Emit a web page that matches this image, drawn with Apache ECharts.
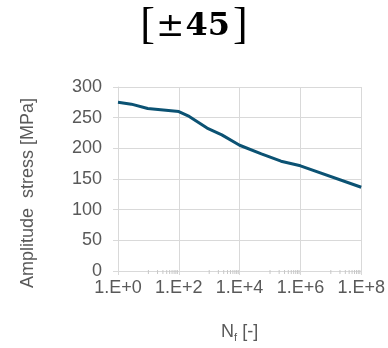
<!DOCTYPE html>
<html>
<head>
<meta charset="utf-8">
<script src="https://cdn.jsdelivr.net/npm/echarts@6/dist/echarts.min.js"></script>
<style>html,body{margin:0;padding:0;background:#fff}#c{width:388px;height:348px}</style>
</head>
<body>
<div id="c"></div>
<script>
// Cycles to failure N_f and amplitude stress [MPa]
var cycles = [1, 2.75, 9.5, 100, 220, 850, 2600, 10000, 52000, 230000, 1000000, 100000000];
var stress = [275, 272, 265, 260, 252, 233, 222, 205, 191, 179, 171.5, 136.5];
var yTicks = [0, 50, 100, 150, 200, 250, 300];
var xTickExponents = [0, 2, 4, 6, 8];
// minor tick positions (log axis minor ticks as drawn in the reference)
var minorTicks = [];
[1, 3, 5, 7].forEach(function (e) {
  for (var k = 1; k <= 9; k++) minorTicks.push(k * Math.pow(10, e));
});

var chart = echarts.init(document.getElementById('c'), null, {renderer: 'canvas'});
var grey = '#595959';
var lineGrey = '#d9d9d9';
chart.setOption({
  animation: false,
  backgroundColor: '#fff',
  grid: {left: 118, top: 87, width: 246, height: 191, containLabel: false},
  xAxis: {
    type: 'log', logBase: 10,
    min: Math.pow(10, xTickExponents[0]), max: Math.pow(10, xTickExponents[xTickExponents.length - 1]),
    interval: 2,
    axisLine: {show: true, lineStyle: {color: lineGrey, width: 1}},
    axisTick: {show: true, length: 4, lineStyle: {color: lineGrey}},
    splitLine: {show: true, lineStyle: {color: lineGrey, width: 1}},
    axisLabel: {
      color: grey, fontSize: 18, fontFamily: 'Liberation Sans', margin: 8,
      formatter: function (v) { return '1.E+' + Math.round(Math.log10(v)); }
    },
    name: '{n|N}{f|f}{n| [-]}',
    nameLocation: 'middle', nameGap: 51,
    nameTextStyle: {
      rich: {
        n: {fontSize: 18, fontFamily: 'Liberation Sans', color: grey},
        f: {fontSize: 11, fontFamily: 'Liberation Sans', color: grey, padding: [10, 0, 0, 0]}
      }
    }
  },
  yAxis: {
    type: 'value', min: yTicks[0], max: yTicks[yTicks.length - 1], interval: 50,
    axisLine: {show: true, lineStyle: {color: lineGrey, width: 1}},
    axisTick: {show: true, length: 5, lineStyle: {color: lineGrey}},
    splitLine: {show: true, lineStyle: {color: lineGrey, width: 1}},
    axisLabel: {color: grey, fontSize: 18, fontFamily: 'Liberation Sans', margin: 16}
  },
  graphic: [
    {
      type: 'text', x: 194, y: 26,
      style: {
        text: '{r|[}{p|±}{b|45}{r|]}',
        align: 'center', verticalAlign: 'middle',
        rich: {
          r: {fontSize: 44, fontFamily: 'Liberation Serif', fill: '#000', verticalAlign: 'middle'},
          p: {fontSize: 34, fontFamily: 'DejaVu Serif', fill: '#000', verticalAlign: 'middle', padding: [2, 1, 0, 1]},
          b: {fontSize: 32, fontFamily: 'DejaVu Serif', fontWeight: 'bold', fill: '#000', verticalAlign: 'middle', padding: [2, 3, 0, 0]}
        }
      }
    },
    {
      type: 'text', x: 28, y: 193, rotation: Math.PI / 2,
      style: {
        text: 'Amplitude  stress [MPa]',
        align: 'center', verticalAlign: 'middle',
        fontSize: 18, fontFamily: 'Liberation Sans', fill: grey
      }
    }
  ],
  series: [
    {
      type: 'custom', silent: true, clip: false, z: 1,
      data: minorTicks.map(function (v) { return [v, 0]; }),
      renderItem: function (params, api) {
        var p = api.coord([api.value(0), 0]);
        return {
          type: 'line',
          shape: {x1: p[0], y1: p[1] - 1, x2: p[0], y2: p[1] + 3},
          style: {stroke: '#c8c8c8', lineWidth: 1}
        };
      }
    },
    {
      type: 'line', z: 3,
      data: cycles.map(function (c, i) { return [c, stress[i]]; }),
      showSymbol: false, symbol: 'none', smooth: false,
      lineStyle: {color: '#0b5273', width: 3}
    }
  ]
});
</script>
</body>
</html>
